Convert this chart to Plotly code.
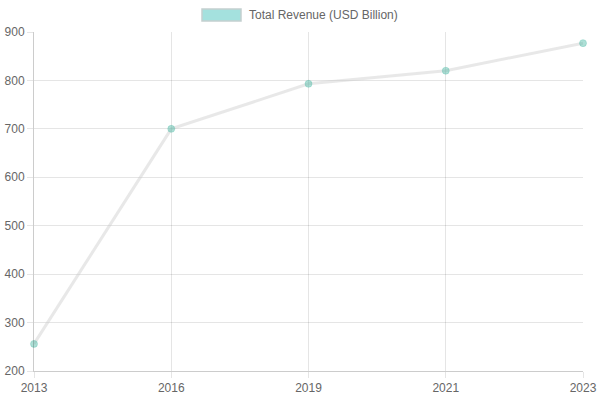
import plotly.graph_objects as go

years = ["2013", "2016", "2019", "2021", "2023"]
revenue = [256, 700, 793, 820, 877]
series_name = "Total Revenue (USD Billion)"
y_ticks = [200, 300, 400, 500, 600, 700, 800, 900]

fig = go.Figure()
fig.add_trace(go.Scatter(
    x=years, y=revenue, mode="lines+markers", name=series_name,
    line=dict(color="rgba(200,200,200,0.42)", width=3),
    marker=dict(size=7, color="rgba(75,185,165,0.45)",
                line=dict(width=1, color="rgba(75,185,165,0.3)")),
    showlegend=False, cliponaxis=False, hoverinfo="skip",
))

# chart.js style legend: boxed swatch + label
fig.add_shape(type="rect", xref="paper", yref="paper",
              x0=(202 - 34) / 549, x1=(241 - 34) / 549,
              y0=(371 - 21) / 339, y1=(371 - 9) / 339,
              fillcolor="#a4e1de", line=dict(color="#c4cfcf", width=1.5))
fig.add_annotation(xref="paper", yref="paper",
                   x=(247 - 34) / 549, y=(371 - 15) / 339,
                   text=series_name, showarrow=False,
                   xanchor="left", yanchor="middle",
                   font=dict(size=12, color="#666"))

fig.update_xaxes(
    type="category", range=[0, len(years) - 1], automargin=False,
    showgrid=True, gridcolor="rgba(0,0,0,0.1)", gridwidth=1,
    showline=True, linecolor="rgba(0,0,0,0.2)", linewidth=1,
    ticks="outside", ticklen=6, tickcolor="rgba(0,0,0,0.1)",
    tickfont=dict(size=12, color="#666"), zeroline=False,
)
fig.update_yaxes(
    range=[200, 900], tickvals=y_ticks, automargin=False,
    showgrid=True, gridcolor="rgba(0,0,0,0.1)", gridwidth=1,
    showline=True, linecolor="rgba(0,0,0,0.2)", linewidth=1,
    ticks="outside", ticklen=6, tickcolor="rgba(0,0,0,0.1)",
    tickfont=dict(size=12, color="#666"), zeroline=False,
)

fig.update_layout(
    width=600, height=400, autosize=False,
    margin=dict(l=34, r=17, t=32, b=29),
    plot_bgcolor="white", paper_bgcolor="white",
    font=dict(family="Liberation Sans, Arial, sans-serif", size=12, color="#666"),
    showlegend=False,
)

# drop the default page margin so the figure sits at the window's corner
fig.write_html("out.html", config={"displayModeBar": False},
               post_script="document.body.style.margin='0';document.body.style.overflow='hidden';")
